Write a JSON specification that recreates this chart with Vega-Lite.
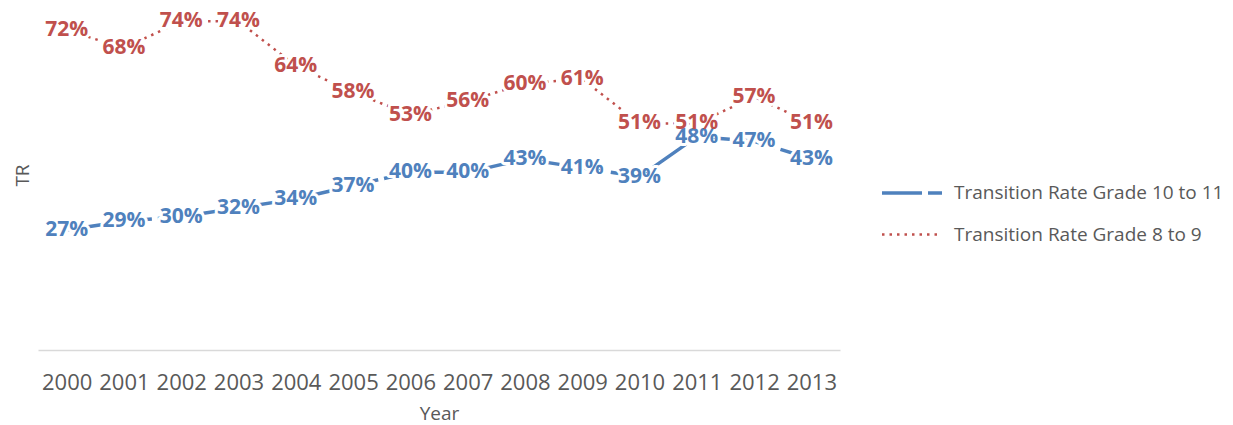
{
  "$schema": "https://vega.github.io/schema/vega-lite/v6.json",
  "width": 802,
  "height": 350,
  "autosize": {"type": "none"},
  "padding": {"left": 38, "top": 0, "right": 393, "bottom": 75},
  "config": {"view": {"stroke": null}, "font": "Open Sans, sans-serif"},
  "data": {
    "values": [
      {"year": "2000", "series": "Transition Rate Grade 10 to 11", "rate": 0.27},
      {"year": "2001", "series": "Transition Rate Grade 10 to 11", "rate": 0.29},
      {"year": "2002", "series": "Transition Rate Grade 10 to 11", "rate": 0.30},
      {"year": "2003", "series": "Transition Rate Grade 10 to 11", "rate": 0.32},
      {"year": "2004", "series": "Transition Rate Grade 10 to 11", "rate": 0.34},
      {"year": "2005", "series": "Transition Rate Grade 10 to 11", "rate": 0.37},
      {"year": "2006", "series": "Transition Rate Grade 10 to 11", "rate": 0.40},
      {"year": "2007", "series": "Transition Rate Grade 10 to 11", "rate": 0.40},
      {"year": "2008", "series": "Transition Rate Grade 10 to 11", "rate": 0.43},
      {"year": "2009", "series": "Transition Rate Grade 10 to 11", "rate": 0.41},
      {"year": "2010", "series": "Transition Rate Grade 10 to 11", "rate": 0.39},
      {"year": "2011", "series": "Transition Rate Grade 10 to 11", "rate": 0.48},
      {"year": "2012", "series": "Transition Rate Grade 10 to 11", "rate": 0.47},
      {"year": "2013", "series": "Transition Rate Grade 10 to 11", "rate": 0.43},
      {"year": "2000", "series": "Transition Rate Grade 8 to 9", "rate": 0.72},
      {"year": "2001", "series": "Transition Rate Grade 8 to 9", "rate": 0.68},
      {"year": "2002", "series": "Transition Rate Grade 8 to 9", "rate": 0.74},
      {"year": "2003", "series": "Transition Rate Grade 8 to 9", "rate": 0.74},
      {"year": "2004", "series": "Transition Rate Grade 8 to 9", "rate": 0.64},
      {"year": "2005", "series": "Transition Rate Grade 8 to 9", "rate": 0.58},
      {"year": "2006", "series": "Transition Rate Grade 8 to 9", "rate": 0.53},
      {"year": "2007", "series": "Transition Rate Grade 8 to 9", "rate": 0.56},
      {"year": "2008", "series": "Transition Rate Grade 8 to 9", "rate": 0.60},
      {"year": "2009", "series": "Transition Rate Grade 8 to 9", "rate": 0.61},
      {"year": "2010", "series": "Transition Rate Grade 8 to 9", "rate": 0.51},
      {"year": "2011", "series": "Transition Rate Grade 8 to 9", "rate": 0.51},
      {"year": "2012", "series": "Transition Rate Grade 8 to 9", "rate": 0.57},
      {"year": "2013", "series": "Transition Rate Grade 8 to 9", "rate": 0.51}
    ]
  },
  "encoding": {
    "x": {
      "field": "year", "type": "ordinal",
      "scale": {"type": "point", "padding": 0.5},
      "axis": {
        "title": "Year", "labelAngle": 0, "ticks": false, "domainColor": "#d9d9d9", "domainWidth": 1.5,
        "labelFontSize": 22, "labelColor": "#595959", "labelPadding": 22,
        "titleFontSize": 19, "titleColor": "#595959", "titleFontWeight": "normal", "titlePadding": 11
      }
    },
    "y": {
      "field": "rate", "type": "quantitative",
      "scale": {"domain": [0, 0.788], "nice": false, "zero": true},
      "axis": {
        "title": "TR", "labels": false, "ticks": false, "domain": false, "grid": false,
        "titleFontSize": 19, "titleColor": "#595959", "titleFontWeight": "normal",
        "titleX": -16, "titleY": 175, "titleBaseline": "middle", "titleAngle": -90
      }
    }
  },
  "layer": [
    {
      "mark": {"type": "line"},
      "encoding": {
        "color": {
          "field": "series", "type": "nominal",
          "scale": {"domain": ["Transition Rate Grade 10 to 11", "Transition Rate Grade 8 to 9"], "range": ["#4F81BD", "#C0504D"]},
          "legend": {
            "title": null, "orient": "none", "legendX": 842, "legendY": 161,
            "symbolType": "stroke", "symbolSize": 3600, "symbolStrokeWidth": 3,
            "labelFontSize": 19, "labelColor": "#595959", "rowPadding": -18, "labelOffset": 10, "labelLimit": 400
          }
        },
        "strokeDash": {
          "field": "series", "type": "nominal",
          "scale": {"domain": ["Transition Rate Grade 10 to 11", "Transition Rate Grade 8 to 9"], "range": [[40, 6], [2.5, 5]]},
          "legend": {
            "title": null, "orient": "none", "legendX": 842, "legendY": 161,
            "symbolType": "stroke", "symbolSize": 3600, "symbolStrokeWidth": 3,
            "labelFontSize": 19, "labelColor": "#595959", "rowPadding": -18, "labelOffset": 10, "labelLimit": 400
          }
        },
        "strokeWidth": {
          "field": "series", "type": "nominal",
          "scale": {"domain": ["Transition Rate Grade 10 to 11", "Transition Rate Grade 8 to 9"], "range": [3.5, 2.5]},
          "legend": null
        }
      }
    },
    {
      "mark": {"type": "text", "fontSize": 21, "fontWeight": "bold", "stroke": "white", "strokeWidth": 6, "strokeJoin": "round", "fill": "white"},
      "encoding": {
        "text": {"field": "rate", "type": "quantitative", "format": ".0%"},
        "detail": {"field": "series", "type": "nominal"}
      }
    },
    {
      "mark": {"type": "text", "fontSize": 21, "fontWeight": "bold"},
      "encoding": {
        "text": {"field": "rate", "type": "quantitative", "format": ".0%"},
        "color": {"field": "series", "type": "nominal", "legend": null}
      }
    }
  ]
}
